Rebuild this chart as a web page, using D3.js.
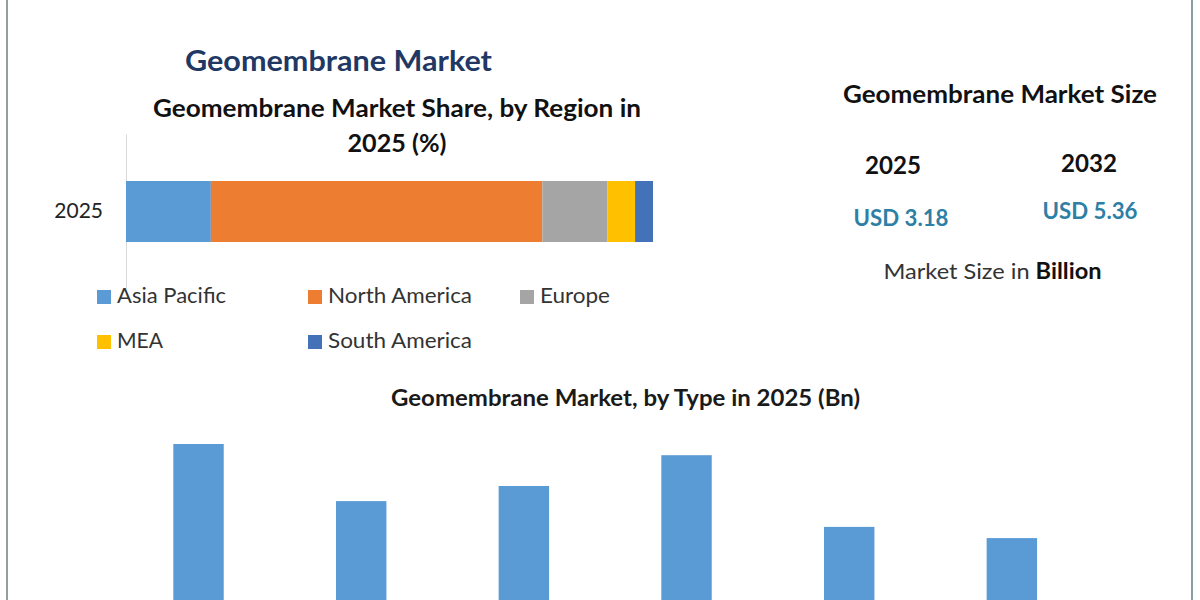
<!DOCTYPE html>
<html lang="en">
<head>
<meta charset="UTF-8">
<title>Geomembrane Market</title>
<script src="https://d3js.org/d3.v7.min.js"></script>
<style>
  html, body { margin: 0; padding: 0; background: #fff; overflow: hidden; }
  text { font-family: Lato, "Open Sans", sans-serif; }
</style>
</head>
<body>
<div id="chart"></div>
<script>
// values
var regions = ["Asia Pacific", "North America", "Europe", "MEA", "South America"]
var regionShare = [16.1, 62.9, 12.3, 5.3, 3.4]
var regionColors = ["#5b9bd5", "#ed7d31", "#a5a5a5", "#ffc000", "#4472b8"]
var shareYears = ["2025"]

var typeNames = ["Type 1", "Type 2", "Type 3", "Type 4", "Type 5", "Type 6"] // labels are cut off in the picture
var typeValues = [0.70, 0.496, 0.55, 0.66, 0.404, 0.364]

var sizeYears = ["2025", "2032"]
var sizeLabels = ["USD 3.18", "USD 5.36"]

var width = 1200, height = 600
var svg = d3.select("#chart").append("svg")
  .attr("width", width)
  .attr("height", height)
  .style("display", "block")

// textLength keeps each label the same width as in the picture
function label(str, x, y, size, weight, color, len) {
  return svg.append("text")
    .attr("x", x).attr("y", y)
    .attr("text-anchor", "middle")
    .attr("textLength", len)
    .attr("lengthAdjust", "spacingAndGlyphs")
    .style("font-size", size + "px")
    .style("font-weight", weight)
    .style("fill", color)
    .text(str)
}

// frame
svg.append("line").attr("x1", 7).attr("x2", 7).attr("y1", 0).attr("y2", height)
  .attr("stroke", "#6f7f7c").attr("stroke-width", 1.5)
svg.append("line").attr("x1", 1192).attr("x2", 1192).attr("y1", 0).attr("y2", height)
  .attr("stroke", "#5f7f7c").attr("stroke-width", 1.5)

// titles
label("Geomembrane Market", 338.5, 71, 29, 700, "#1f3864", 307)
label("Geomembrane Market Share, by Region in", 397, 117, 25, 700, "#111", 488)
label("2025 (%)", 397, 152, 25, 700, "#111", 99)
label("Geomembrane Market, by Type in 2025 (Bn)", 625.5, 406, 23, 700, "#1a1a1a", 469)

// stacked bar
var xShare = d3.scaleLinear().domain([0, 100]).range([126, 653])
var yShare = d3.scaleBand().domain(shareYears).range([134, 288])

var yAxis = d3.axisLeft(yShare).tickSize(0).tickPadding(23)
var yG = svg.append("g").attr("transform", "translate(126,0)").call(yAxis)
yG.select(".domain").attr("stroke", "#d9d9d9")
yG.selectAll("text")
  .style("font-family", "Lato, sans-serif")
  .style("font-size", "21px")
  .style("fill", "#222")

var stacked = d3.stack().keys(regions)([Object.fromEntries(regions.map(function (r, i) {
  return [r, regionShare[i]]
}))])

svg.append("g").selectAll("rect")
  .data(stacked)
  .join("rect")
  .attr("x", function (d) { return xShare(d[0][0]) })
  .attr("width", function (d) { return xShare(d[0][1]) - xShare(d[0][0]) })
  .attr("y", 181)
  .attr("height", 61)
  .attr("fill", function (d, i) { return regionColors[i] })

// legend
var legendX = d3.scaleOrdinal().domain(regions).range([97, 308, 520, 97, 308])
var legendY = d3.scaleOrdinal().domain(regions).range([296, 296, 296, 341, 341])
var legendW = d3.scaleOrdinal().domain(regions).range([109, 144, 70, 46, 144])

var legend = svg.append("g").selectAll("g")
  .data(regions)
  .join("g")
  .attr("transform", function (d) { return "translate(" + legendX(d) + "," + legendY(d) + ")" })

legend.append("rect")
  .attr("y", -6).attr("width", 14).attr("height", 14)
  .attr("fill", function (d, i) { return regionColors[i] })

legend.append("text")
  .attr("x", 20).attr("y", 7)
  .attr("textLength", function (d) { return legendW(d) })
  .attr("lengthAdjust", "spacingAndGlyphs")
  .style("font-size", "22px")
  .style("fill", "#333")
  .text(function (d) { return d })

// market size panel
label("Geomembrane Market Size", 1000, 103, 24, 700, "#111", 314)
label(sizeYears[0], 893, 174, 25, 700, "#111", 56)
label(sizeYears[1], 1089, 172, 25, 700, "#111", 56)
label(sizeLabels[0], 901, 226, 23, 700, "#2e7fa6", 95)
label(sizeLabels[1], 1090, 219, 23, 700, "#2e7fa6", 95)

var sizeNote = svg.append("text")
  .attr("x", 992.5).attr("y", 279)
  .attr("text-anchor", "middle")
  .attr("textLength", 218)
  .attr("lengthAdjust", "spacingAndGlyphs")
  .style("font-size", "22px")
  .style("fill", "#333")
sizeNote.append("tspan").text("Market Size in ")
sizeNote.append("tspan").style("font-weight", 700).style("fill", "#111").text("Billion")

// bars by type, the baseline sits below the cropped edge of the picture
var xType = d3.scaleBand().domain(typeNames).range([117.2, 1093.2]).paddingInner(0.69).paddingOuter(0.345)
var yType = d3.scaleLinear().domain([0, 0.7]).range([640, 444])

svg.append("g").selectAll("rect")
  .data(typeValues)
  .join("rect")
  .attr("x", function (d, i) { return xType(typeNames[i]) })
  .attr("width", xType.bandwidth())
  .attr("y", function (d) { return yType(d) })
  .attr("height", function (d) { return yType(0) - yType(d) })
  .attr("fill", "#5b9bd5")
</script>
</body>
</html>
